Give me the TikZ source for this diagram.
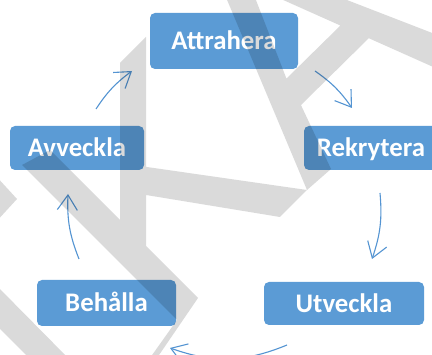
\documentclass[tikz,border=0pt]{standalone}
\usepackage{fontspec}
\setmainfont{Carlito}
\usetikzlibrary{arrows.meta}
\definecolor{boxblue}{RGB}{91,155,213}
\definecolor{arrblue}{RGB}{84,148,210}
\begin{document}
\begin{tikzpicture}[x=1pt,y=1pt,
  stage/.style={fill=boxblue, rounded corners=5pt, inner sep=0pt, text=white,
    font=\bfseries\fontsize{26.8}{31}\selectfont, text height=17.3pt, text depth=0pt},
  cyc/.style={draw=arrblue, line width=1.1pt, -{Straight Barb[length=15pt,width=20pt]}},
  wmark/.style={fill=black, fill opacity=0.145}]
\useasboundingbox (0,0) rectangle (432,-355);
\fill[white] (0,0) rectangle (432,-355);
% stages
\node[stage, minimum width=148pt, minimum height=56pt] (att) at (224,-41) {Attrahera};
\node[stage, minimum width=134pt, minimum height=44pt] (rek) at (371,-148) {Rekrytera};
\node[stage, minimum width=160pt, minimum height=43pt] (utv) at (344,-303.5) {Utveckla};
\node[stage, minimum width=139pt, minimum height=46pt] (beh) at (106.5,-303) {Behålla};
\node[stage, minimum width=134pt, minimum height=44pt] (avv) at (77,-148) {Avveckla};
% cycle arrows
\coordinate (a1s) at (315,-71);  \coordinate (a1e) at (352,-108);
\coordinate (a2s) at (380,-193); \coordinate (a2e) at (372,-259);
\coordinate (a3s) at (287,-345); \coordinate (a3e) at (170,-348);
\coordinate (a4s) at (79,-259);  \coordinate (a4e) at (68,-194);
\coordinate (a5s) at (96,-109);  \coordinate (a5e) at (132,-71);
\draw[cyc] (a1s) to[bend left=10] (a1e);
\draw[cyc] (a2s) to[bend left=12] (a2e);
\draw[cyc] (a3s) to[bend left=21] (a3e);
\draw[cyc] (a4s) to[bend left=12] (a4e);
\draw[cyc] (a5s) to[bend left=10] (a5e);
% watermark
\fill[wmark]
  (120,-63) -- (146,-37) -- (146,-246) -- (198,-298) -- (157,-358) -- (150,-358)
    -- (177,-320) -- (22,-165) -- (50,-150) -- (120,-220) -- cycle
  (140,-166) -- (307,-190) -- (280,-217) -- (140,-194) -- cycle
  (225,5) -- (254,5) -- (287,-80) -- (300,-103) -- (331,-169) -- (307,-190) -- cycle
  (341,-25) -- (370,-37) -- (301,-105) -- (286,-79) -- cycle
  (272,5) -- (334,5) -- (440,-36) -- (440,-70) -- cycle
  (-5,-175) -- (17,-199) -- (-5,-223) -- cycle
  (-5,-284) -- (72,-362) -- (33,-362) -- (-5,-324) -- cycle;
\end{tikzpicture}
\end{document}
